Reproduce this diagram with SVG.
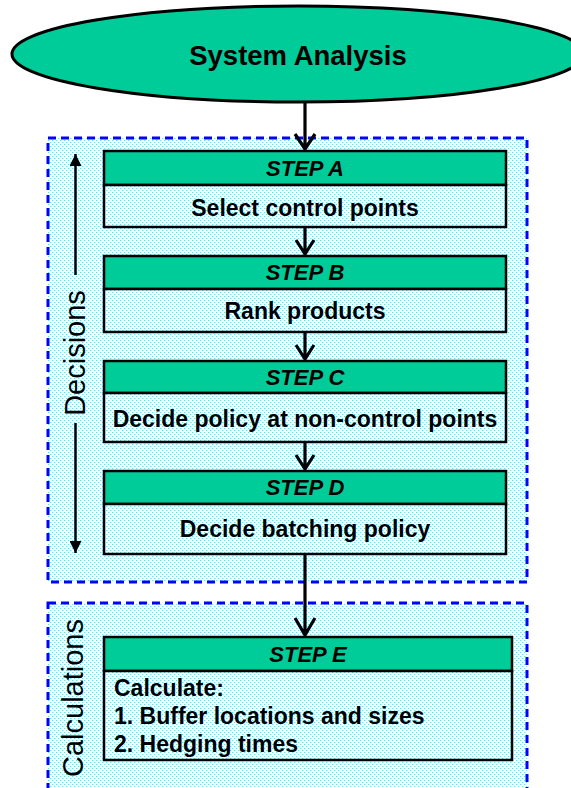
<svg xmlns="http://www.w3.org/2000/svg" width="571" height="788" viewBox="0 0 571 788">
<defs>
<pattern id="dots" x="0" y="0" width="4" height="4" patternUnits="userSpaceOnUse">
<rect width="4" height="4" fill="#ffffff"/>
<rect x="0" y="0" width="1" height="1" fill="#55eaf5"/>
<rect x="1" y="0" width="1" height="1" fill="#b5f7ff"/>
<rect x="2" y="2" width="1" height="1" fill="#55eaf5"/>
<rect x="3" y="2" width="1" height="1" fill="#b5f7ff"/>
</pattern>
<marker id="tri" viewBox="0 0 12 12" refX="12" refY="6" markerWidth="12" markerHeight="12" markerUnits="userSpaceOnUse" orient="auto">
<path d="M0,0 L12,6 L0,12 Z" fill="#000"/>
</marker>
</defs>
<style>
.zone{fill:url(#dots);stroke:#0000ff;stroke-width:3;stroke-dasharray:8 5}
.hdr{fill:#00cc99;stroke:#000;stroke-width:2.5}
.body{fill:url(#dots);stroke:#000;stroke-width:2.5}
.ht{font-family:"Liberation Sans",Arial,sans-serif;font-weight:bold;font-style:italic;font-size:22px;text-anchor:middle;fill:#000}
.bt{font-family:"Liberation Sans",Arial,sans-serif;font-weight:bold;font-size:23px;text-anchor:middle;fill:#000}
.lt{font-family:"Liberation Sans",Arial,sans-serif;font-weight:bold;font-size:23px;fill:#000}
.side{font-family:"Liberation Sans",Arial,sans-serif;font-size:29px;text-anchor:middle;fill:#000}
.conn{stroke:#000;stroke-width:3.2;fill:none}
.axis{stroke:#000;stroke-width:2.5;fill:none}
</style>
<rect width="571" height="788" fill="#ffffff"/>
<g id="zone-decisions">
<rect class="zone" x="48" y="138" width="479" height="444"/>
<text class="side" transform="translate(85,353) rotate(-90)">Decisions</text>
<line class="axis" x1="75.5" y1="275" x2="75.5" y2="154" marker-end="url(#tri)"/>
<line class="axis" x1="75.5" y1="423" x2="75.5" y2="553" marker-end="url(#tri)"/>
</g>
<g id="zone-calculations">
<rect class="zone" x="48" y="603" width="479" height="200"/>
<text class="side" transform="translate(83,698) rotate(-90)">Calculations</text>
</g>
<g id="system-analysis">
<ellipse cx="298" cy="54" rx="286" ry="48" fill="#00cc99" stroke="#000" stroke-width="3"/>
<text x="298" y="65" font-family="'Liberation Sans',Arial,sans-serif" font-weight="bold" font-size="27.5px" text-anchor="middle" fill="#000">System Analysis</text>
</g>
<g id="step-a">
<rect class="hdr" x="104" y="151" width="402" height="34"/>
<rect class="body" x="104" y="185" width="402" height="42"/>
<text class="ht" x="305" y="176">STEP A</text>
<text class="bt" x="305" y="216">Select control points</text>
</g>
<g id="step-b">
<rect class="hdr" x="104" y="256" width="402" height="33"/>
<rect class="body" x="104" y="289" width="402" height="43"/>
<text class="ht" x="305" y="280">STEP B</text>
<text class="bt" x="305" y="319">Rank products</text>
</g>
<g id="step-c">
<rect class="hdr" x="104" y="361" width="402" height="32"/>
<rect class="body" x="104" y="393" width="402" height="49"/>
<text class="ht" x="305" y="385">STEP C</text>
<text class="bt" x="305" y="427">Decide policy at non-control points</text>
</g>
<g id="step-d">
<rect class="hdr" x="104" y="471" width="402" height="33"/>
<rect class="body" x="104" y="504" width="402" height="50"/>
<text class="ht" x="305" y="495">STEP D</text>
<text class="bt" x="305" y="537">Decide batching policy</text>
</g>
<g id="step-e">
<rect class="hdr" x="104" y="637" width="408" height="34"/>
<rect class="body" x="104" y="671" width="408" height="89"/>
<text class="ht" x="308" y="662">STEP E</text>
<text class="lt" x="114" y="696">Calculate:</text>
<text class="lt" x="114" y="724">1. Buffer locations and sizes</text>
<text class="lt" x="114" y="752">2. Hedging times</text>
</g>
<g id="connectors">
<path class="conn" d="M305,102 V149 M295,134 L305,149 L315,134"/>
<path class="conn" d="M305,227 V254 M296,240 L305,254 L314,240"/>
<path class="conn" d="M305,332 V359 M296,345 L305,359 L314,345"/>
<path class="conn" d="M305,442 V469 M296,455 L305,469 L314,455"/>
<path class="conn" d="M305,554 V635 M295,618 L305,635 L315,618"/>
</g>
</svg>
